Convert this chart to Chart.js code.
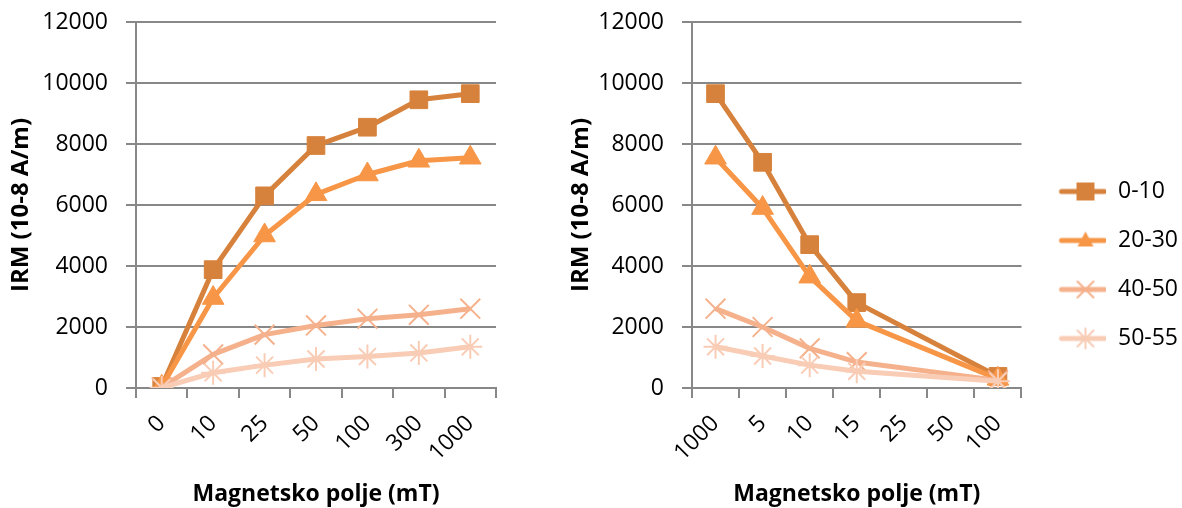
<!DOCTYPE html>
<html>
<head>
<meta charset="utf-8">
<script src="https://cdn.jsdelivr.net/npm/chart.js@4/dist/chart.umd.min.js"></script>
<style>
  html, body { margin: 0; padding: 0; background: #fff; overflow: hidden; }
  #left { position: absolute; left: 0; top: 0; }
  #right { position: absolute; left: 560px; top: 0; }
</style>
</head>
<body>
<canvas id="left" width="520" height="508"></canvas>
<canvas id="right" width="628" height="508"></canvas>
<script>
// series (depth intervals)
const seriesNames = ['0-10', '20-30', '40-50', '50-55'];

// left chart: acquisition
const leftFields = ['0', '10', '25', '50', '100', '300', '1000'];
const left010 = [50, 3880, 6300, 7950, 8550, 9450, 9650];
const left2030 = [40, 2950, 5000, 6350, 7000, 7450, 7550];
const left4050 = [20, 1100, 1750, 2050, 2270, 2400, 2600];
const left5055 = [10, 500, 750, 950, 1030, 1150, 1350];

// right chart: back field, 25 and 50 not measured
const rightFields = ['1000', '5', '10', '15', '25', '50', '100'];
const right010 = [9650, 7400, 4700, 2800, null, null, 380];
const right2030 = [7550, 5900, 3650, 2200, null, null, 300];
const right4050 = [2600, 2000, 1300, 850, null, null, 250];
const right5055 = [1350, 1050, 750, 550, null, null, 220];

const yTicks = { min: 0, max: 12000, step: 2000 };

const colors = ['#D7823C', '#F79646', '#F5B18C', '#F8CCB5'];
const markers = ['rect', 'triangle', 'crossRot', 'star'];
const markerRadius = [12.5, 12.5, 14, 12];
const markerBorder = [1, 1, 2, 2];
const FONT = '"Open Sans", sans-serif';
const GRID = '#888888';
const SWATCH_W = 59;

// small line+marker image for the legend
function swatch(i) {
  const c = document.createElement('canvas');
  c.width = SWATCH_W;
  c.height = 24;
  const ctx = c.getContext('2d');
  ctx.strokeStyle = colors[i];
  ctx.fillStyle = colors[i];
  ctx.lineCap = 'round';
  ctx.lineWidth = 5;
  ctx.beginPath();
  ctx.moveTo(14, 12);
  ctx.lineTo(SWATCH_W - 2, 12);
  ctx.stroke();
  const cx = 38, cy = 12;
  ctx.lineWidth = 2;
  if (markers[i] === 'rect') {
    ctx.fillRect(cx - 9, cy - 9, 18, 18);
  } else if (markers[i] === 'triangle') {
    ctx.beginPath();
    ctx.moveTo(cx, cy - 9);
    ctx.lineTo(cx + 8, cy + 6);
    ctx.lineTo(cx - 8, cy + 6);
    ctx.closePath();
    ctx.fill();
  } else {
    ctx.beginPath();
    ctx.moveTo(cx - 8, cy - 8); ctx.lineTo(cx + 8, cy + 8);
    ctx.moveTo(cx + 8, cy - 8); ctx.lineTo(cx - 8, cy + 8);
    if (markers[i] === 'star') {
      ctx.moveTo(cx, cy - 10); ctx.lineTo(cx, cy + 10);
    }
    ctx.stroke();
  }
  return c;
}

function makeDatasets(seriesData) {
  return seriesData.map((values, i) => ({
    label: seriesNames[i],
    data: values,
    borderColor: colors[i],
    backgroundColor: colors[i],
    borderWidth: 5,
    borderJoinStyle: 'round',
    tension: 0,
    spanGaps: true,
    pointStyle: markers[i],
    pointRadius: markerRadius[i],
    pointHoverRadius: markerRadius[i],
    pointBackgroundColor: colors[i],
    pointBorderColor: colors[i],
    pointBorderWidth: markerBorder[i],
    order: seriesNames.length - i // later series drawn on top
  }));
}

function makeChart(canvasId, fields, seriesData, yWidth, showLegend) {
  const legendSwatches = seriesNames.map((n, i) => swatch(i));

  return new Chart(document.getElementById(canvasId), {
    type: 'line',
    data: {
      labels: fields,
      datasets: makeDatasets(seriesData)
    },
    options: {
      responsive: false,
      animation: false,
      layout: {
        padding: { top: 22, right: showLegend ? 0 : 24, left: 0, bottom: 0 }
      },
      plugins: {
        tooltip: { enabled: false },
        legend: {
          display: showLegend,
          position: 'right',
          maxWidth: 300,
          labels: {
            usePointStyle: true,
            pointStyleWidth: SWATCH_W,
            padding: 26,
            color: '#000',
            font: { family: FONT, size: 23 },
            generateLabels: () => seriesNames.map((name, i) => ({
              text: name,
              pointStyle: legendSwatches[i],
              fillStyle: colors[i],
              strokeStyle: colors[i],
              lineWidth: 0,
              hidden: false,
              datasetIndex: i,
              fontColor: '#000'
            }))
          }
        }
      },
      scales: {
        x: {
          type: 'category',
          offset: true,
          ticks: {
            color: '#000',
            font: { family: FONT, size: 23 },
            minRotation: 45,
            maxRotation: 45,
            autoSkip: false,
            padding: 12
          },
          grid: {
            drawOnChartArea: false,
            offset: true,
            color: GRID,
            lineWidth: 2,
            tickLength: 10
          },
          border: { color: GRID, width: 2 },
          title: {
            display: true,
            text: 'Magnetsko polje (mT)',
            color: '#000',
            font: { family: FONT, size: 23, weight: 'bold' },
            padding: { top: 0, bottom: 0 }
          },
          afterFit: (scale) => {
            scale.height = 120;
            scale.paddingLeft = 0;
            scale.paddingRight = 0;
          }
        },
        y: {
          min: yTicks.min,
          max: yTicks.max,
          ticks: {
            stepSize: yTicks.step,
            color: '#000',
            font: { family: FONT, size: 23 },
            padding: 18,
            callback: (v) => String(v)
          },
          grid: { color: GRID, lineWidth: 2, tickLength: 10 },
          border: { color: GRID, width: 2 },
          title: {
            display: true,
            text: 'IRM (10-8 A/m)',
            color: '#000',
            font: { family: FONT, size: 24, weight: 'bold' },
            padding: { top: 7, bottom: 0 }
          },
          afterFit: (scale) => {
            scale.width = yWidth;
            // tick padding would otherwise push the plot top down
            scale.paddingTop = 0;
            scale.paddingBottom = 0;
          }
        }
      }
    }
  });
}

makeChart('left', leftFields, [left010, left2030, left4050, left5055], 136, false);
makeChart('right', rightFields, [right010, right2030, right4050, right5055], 132, true);
</script>
</body>
</html>
